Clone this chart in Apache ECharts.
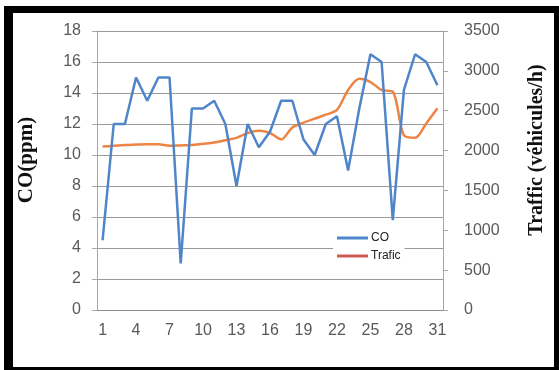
<!DOCTYPE html>
<html><head><meta charset="utf-8">
<script src="https://cdn.jsdelivr.net/npm/echarts@6/dist/echarts.min.js"></script>
<style>html,body{margin:0;padding:0;background:#fff}#c{width:559px;height:370px}</style>
</head><body><div id="c"></div>
<script>
const days = ['1','2','3','4','5','6','7','8','9','10','11','12','13','14','15','16','17','18','19','20','21','22','23','24','25','26','27','28','29','30','31'];
const coValues = [4.5,12,12,15,13.5,15,15,3,13,13,13.5,12,8,12,10.5,11.5,13.5,13.5,11,10,12,12.5,9,13,16.5,16,5.8,14.2,16.5,16,14.5];
const traficValues = [2050,2060,2070,2075,2080,2080,2060,2065,2070,2085,2100,2130,2160,2220,2250,2220,2140,2290,2350,2400,2450,2510,2760,2900,2860,2760,2740,2190,2160,2340,2530];
const leftTitle = 'CO(ppm)';
const rightTitle = 'Traffic (véhicules/h)';

const chart = echarts.init(document.getElementById('c'));
const tickFont = {fontFamily:'Liberation Sans', fontSize:16, color:'#595959'};
chart.setOption({
  backgroundColor:'#fff',
  animation:false,
  graphic:[
    {type:'rect', z:-10, shape:{x:4,y:6,width:560,height:370}, style:{fill:'#000'}},
    {type:'rect', z:-9, shape:{x:13,y:13,width:541,height:354}, style:{fill:'#fff'}},
    {type:'text', x:27, y:160, rotation:Math.PI/2, style:{text:leftTitle, font:'bold 21px "Liberation Serif"', fill:'#111', align:'center', verticalAlign:'middle'}},
    {type:'text', x:537, y:150, rotation:Math.PI/2, style:{text:rightTitle, font:'bold 20px "Liberation Serif"', fill:'#111', align:'center', verticalAlign:'middle'}}
  ],
  grid:{left:97, right:116, top:31, bottom:60},
  legend:{
    orient:'vertical', left:333, top:229, itemWidth:31, itemHeight:3, itemGap:6,
    backgroundColor:'#fff', padding:[3,4,3,4],
    textStyle:{fontFamily:'Liberation Sans', fontSize:12, color:'#222', padding:[0,0,0,-2]},
    data:[
      {name:'CO', icon:'rect', itemStyle:{color:'#4f85c9'}},
      {name:'Trafic', icon:'rect', itemStyle:{color:'#d05a55'}}
    ]
  },
  xAxis:{
    type:'category', data:days, boundaryGap:true,
    axisLine:{lineStyle:{color:'#8c8c8c'}},
    axisTick:{interval:0, length:5, lineStyle:{color:'#8c8c8c'}},
    axisLabel:Object.assign({interval:2, margin:13}, tickFont),
    splitLine:{show:false}
  },
  yAxis:[
    {type:'value', min:0, max:18, interval:2, position:'left',
     axisLine:{show:true, lineStyle:{color:'#a6a6a6'}},
     axisTick:{show:true, length:5, lineStyle:{color:'#a6a6a6'}},
     axisLabel:Object.assign({margin:16}, tickFont),
     splitLine:{lineStyle:{color:'#9a9a9a', width:1}}},
    {type:'value', min:0, max:3500, interval:500, position:'right',
     axisLine:{show:true, lineStyle:{color:'#a6a6a6'}},
     axisTick:{show:true, length:5, lineStyle:{color:'#a6a6a6'}},
     axisLabel:Object.assign({margin:21, formatter:function(v){return String(v);}}, tickFont),
     splitLine:{show:false}}
  ],
  series:[
    {name:'CO', type:'line', yAxisIndex:0, data:coValues, symbol:'none',
     lineStyle:{color:'#4f85c9', width:2.5}, itemStyle:{color:'#4f85c9'}, z:3},
    {name:'Trafic', type:'line', yAxisIndex:1, data:traficValues, symbol:'none', smooth:0.3,
     lineStyle:{color:'#ee8444', width:2.5}, itemStyle:{color:'#ee8444'}, z:2}
  ]
});
</script></body></html>
